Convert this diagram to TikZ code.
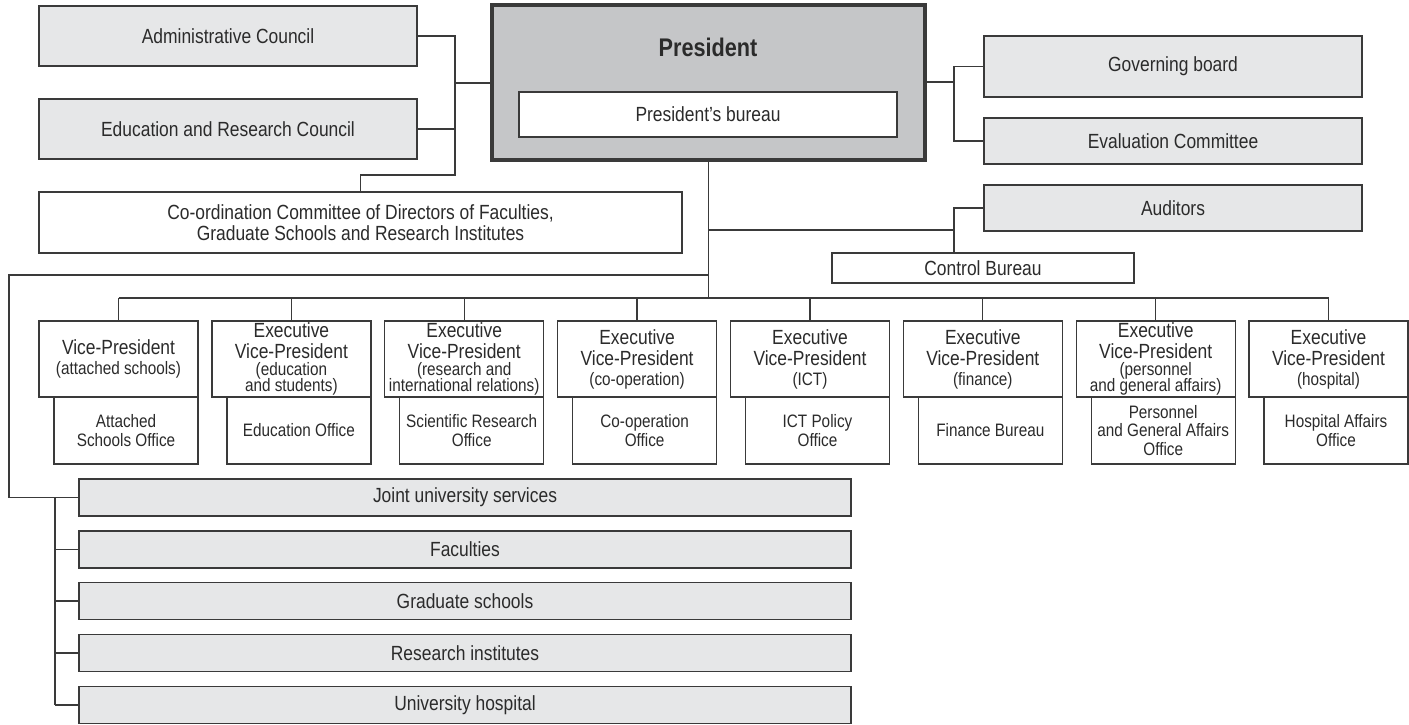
\documentclass[tikz,border=0pt]{standalone}
\usepackage{fontspec}
\setmainfont{Liberation Sans}[FakeStretch=0.85]
\definecolor{orgline}{HTML}{3A3A3A}
\definecolor{orgtext}{HTML}{2B2B2B}
\definecolor{orgpale}{HTML}{E6E7E8}
\definecolor{orgpres}{HTML}{C5C6C8}
\newcommand\mainsize{\fontsize{20.5}{21.5}\selectfont}
\newcommand\subsize{\fontsize{18}{18.5}\selectfont}
\newcommand\headsize{\fontsize{25.5}{27}\selectfont\bfseries}
\tikzset{
  orgbox/.style={draw=orgline,line width=1.3pt,inner sep=0pt,align=center,text=orgtext},
  council/.style={orgbox,fill=orgpale,minimum width=378pt,font=\mainsize},
  plainbox/.style={orgbox,fill=white,font=\mainsize},
  vpbox/.style={orgbox,fill=white,minimum width=159pt,minimum height=76pt,font=\mainsize},
  officebox/.style={orgbox,fill=white,minimum width=144pt,minimum height=67pt,font=\subsize},
  unitbox/.style={orgbox,fill=orgpale,minimum width=772pt,minimum height=37pt,font=\mainsize},
  link/.style={draw=orgline,line width=1.3pt},
}

\begin{document}
\begin{tikzpicture}[x=1pt,y=-1pt,line join=miter]
  % Frame of the original chart, one unit per pixel.
  \useasboundingbox (0,0) rectangle (1409,725);

  % Councils on the left.
  \node[council,minimum height=60pt] (admin) at (228,36) {Administrative Council};
  \node[council,minimum height=60pt] (edres) at (228,129) {Education and Research Council};
  \node[plainbox,minimum width=643pt,minimum height=61pt] (coord) at (360.5,222.5)
    {Co-ordination Committee of Directors of Faculties,\\Graduate Schools and Research Institutes};

  % President with bureau inside.
  \node[orgbox,fill=orgpres,line width=4pt,minimum width=433pt,minimum height=155pt] (pres) at (708.5,82.5) {};
  \node[text=orgtext,font=\headsize] (prestitle) at (708,47) {President};
  \node[plainbox,minimum width=378pt,minimum height=45pt] (bureau) at (708,114.5) {President’s bureau};

  % Boards on the right.
  \node[council,minimum height=61pt] (govboard) at (1173,66.5) {Governing board};
  \node[council,minimum height=46pt] (evalc) at (1173,141) {Evaluation Committee};
  \node[council,minimum height=46pt] (auditors) at (1173,208) {Auditors};
  \node[plainbox,minimum width=302pt,minimum height=30pt] (ctrl) at (983,268) {Control Bureau};

  % Joints of the connectors.
  \coordinate (ljoin) at (455,83);
  \coordinate (lbend) at (455,175);
  \coordinate (rjoin) at (954,82);
  \coordinate (ajoin) at (954,230);
  \coordinate (ltrunk) at (9,275);
  \coordinate (bus) at (708,298);
  \coordinate (ubus) at (55,0);

  \draw[link] (admin.east) -| (lbend) -| (coord.north);
  \draw[link] (edres.east) -- (edres.east -| ljoin);
  \draw[link] (ljoin) -- (ljoin -| pres.west);
  \draw[link] (pres.east |- rjoin) -- (rjoin);
  \draw[link] (govboard.west) -| (rjoin) |- (evalc.west);
  \draw[link] (auditors.west) -| (ajoin |- ctrl.north);
  \draw[link] (ajoin -| pres.south) -- (ajoin);
  \draw[link] (pres.south) -- (pres.south |- bus);

  % Vice-presidents and their offices.
  \foreach \i/\x/\vptext/\offtext in {
      1/118.5/{Vice-President\\[-2pt]{\subsize(attached schools)}}/{Attached\\Schools Office},
      2/291.4/{Executive\\Vice-President\\[-5pt]{\subsize(education}\\[-5pt]{\subsize and students)}}/{Education Office},
      3/464.2/{Executive\\Vice-President\\[-5pt]{\subsize(research and}\\[-5pt]{\subsize international relations)}}/{Scientific Research\\Office},
      4/637.1/{Executive\\Vice-President\\[-2pt]{\subsize(co-operation)}}/{Co-operation\\Office},
      5/810.0/{Executive\\Vice-President\\[-2pt]{\subsize(ICT)}}/{ICT Policy\\Office},
      6/982.8/{Executive\\Vice-President\\[-2pt]{\subsize(finance)}}/{Finance Bureau},
      7/1155.7/{Executive\\Vice-President\\[-5pt]{\subsize(personnel}\\[-5pt]{\subsize and general affairs)}}/{Personnel\\and General Affairs\\Office},
      8/1328.5/{Executive\\Vice-President\\[-2pt]{\subsize(hospital)}}/{Hospital Affairs\\Office}} {
    \node[vpbox] (vp\i) at (\x,359) {\vptext};
    \node[officebox] (off\i) at (\x+7.5,430.5) {\offtext};
    \draw[link] (vp\i.north) -- (vp\i.north |- bus);
  }
  \draw[link] (vp1.north |- bus) -- (vp8.north |- bus);

  % University units at the bottom.
  \foreach \j/\y/\unittext in {1/497.5/Joint university services,2/549.5/Faculties,
      3/601/Graduate schools,4/653/Research institutes,5/705/University hospital} {
    \node[unitbox] (unit\j) at (465,\y) {\unittext};
  }
  \draw[link] (bus -| pres.south) -- (ltrunk -| pres.south) -- (ltrunk) |- (unit1.west);
  \draw[link] (ubus |- unit1.west) -- (ubus |- unit5.west);
  \foreach \j in {2,...,5} {
    \draw[link] (ubus |- unit\j.west) -- (unit\j.west);
  }
\end{tikzpicture}
\end{document}
